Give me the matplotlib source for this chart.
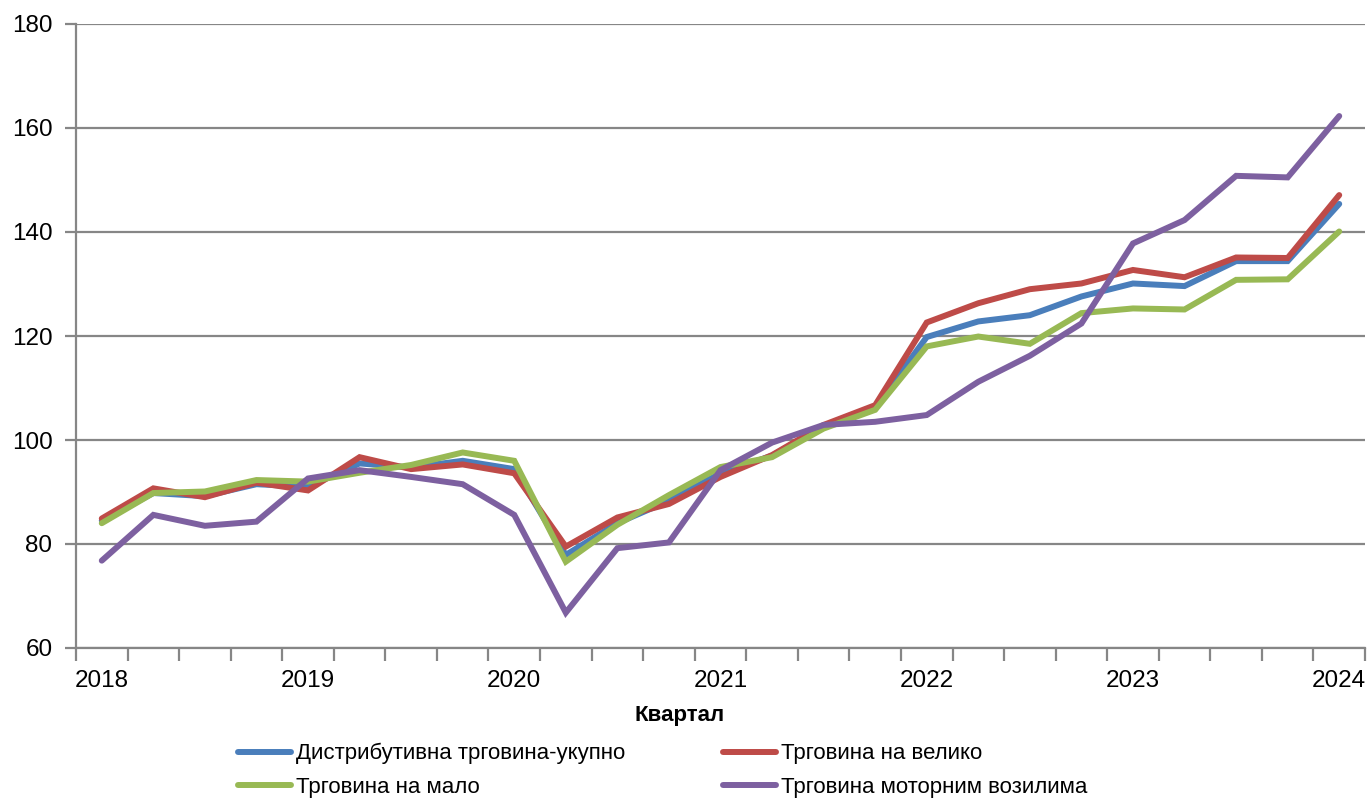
import matplotlib.pyplot as plt
from matplotlib.ticker import FixedLocator

plt.rcParams['font.family'] = ['Liberation Sans', 'DejaVu Sans']

# quarterly index values, 2018Q1 .. 2024Q1
quarters = list(range(25))
year_labels = ['2018', '2019', '2020', '2021', '2022', '2023', '2024']

total = [84.5, 89.8, 89.2, 91.5, 91.0, 95.5, 94.7, 96.0, 94.4, 77.9,
         84.0, 88.3, 93.6, 97.0, 102.6, 106.3, 119.8, 122.8, 124.0, 127.6,
         130.1, 129.6, 134.4, 134.4, 145.4]
wholesale = [84.9, 90.7, 89.0, 91.8, 90.3, 96.7, 94.4, 95.3, 93.6, 79.5,
             85.1, 87.7, 92.9, 97.1, 102.9, 106.7, 122.6, 126.3, 129.0, 130.1,
             132.7, 131.3, 135.1, 135.0, 147.1]
retail = [84.0, 89.8, 90.1, 92.3, 92.0, 93.7, 95.2, 97.6, 96.0, 76.6,
          83.7, 89.4, 94.8, 96.7, 102.2, 105.8, 118.0, 119.9, 118.5, 124.4,
          125.3, 125.1, 130.8, 130.9, 140.1]
motor = [76.8, 85.6, 83.5, 84.3, 92.6, 94.2, 92.9, 91.5, 85.6, 66.8,
         79.2, 80.3, 94.2, 99.5, 102.9, 103.5, 104.8, 111.2, 116.2, 122.4,
         137.8, 142.3, 150.8, 150.5, 162.3]

series = [
    ('Дистрибутивна трговина-укупно', total, '#4A7EBB'),
    ('Трговина на велико', wholesale, '#BE4B48'),
    ('Трговина на мало', retail, '#98B954'),
    ('Трговина моторним возилима', motor, '#7D60A0'),
]

GRID = '#868686'

fig = plt.figure(figsize=(13.7, 8), dpi=100)
ax = fig.add_axes([76 / 1370, 1 - 648 / 800, (1365 - 76) / 1370, (648 - 24) / 800])

lines = []
for label, values, color in series:
    ln, = ax.plot(quarters, values, color=color, lw=4.3, label=label,
                  solid_capstyle='round', solid_joinstyle='miter', zorder=3)
    lines.append(ln)

ax.set_xlim(-0.5, 24.5)
ax.set_ylim(60, 180)
ax.set_yticks(range(60, 181, 20))
ax.yaxis.grid(True, color=GRID, lw=1.6, zorder=1)

# year labels at the first quarter of each year, tick marks between quarters
ax.set_xticks(range(0, 25, 4))
ax.set_xticklabels(year_labels)
ax.xaxis.set_minor_locator(FixedLocator([q - 0.5 for q in range(26)]))
ax.tick_params(axis='x', which='major', length=0, pad=16, labelsize=17.5)
ax.tick_params(axis='x', which='minor', length=9, width=1.6, color=GRID)
ax.tick_params(axis='y', length=8, width=1.6, color=GRID, pad=9, labelsize=17.5)

for side in ('top', 'right'):
    ax.spines[side].set_visible(False)
for side in ('left', 'bottom'):
    ax.spines[side].set_color(GRID)
    ax.spines[side].set_linewidth(1.6)

ax.set_xlabel('Квартал', fontsize=16, fontweight='bold')
ax.xaxis.set_label_coords((680 - 76) / 1289, -0.092)

# legend filled row by row, as in the source
order = [0, 2, 1, 3]
fig.legend([lines[i] for i in order], [series[i][0] for i in order],
           loc='upper left', bbox_to_anchor=(238 / 1370, 1 - 743 / 800),
           ncol=2, frameon=False, fontsize=16, handlelength=2.4,
           handletextpad=0.2, columnspacing=4.4, labelspacing=0.55,
           borderpad=0, borderaxespad=0)

plt.savefig('out.png', dpi=100)
